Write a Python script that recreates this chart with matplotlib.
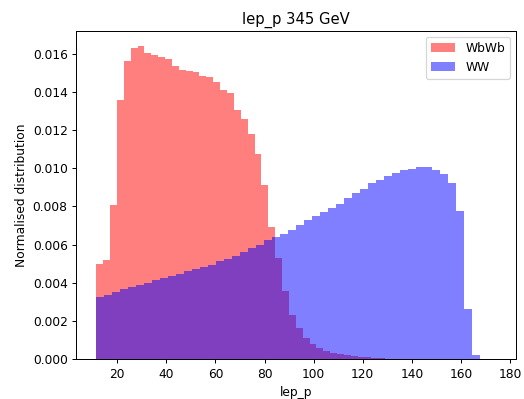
import numpy as np
import matplotlib
matplotlib.use('Agg')
import matplotlib.pyplot as plt

# bin ranges (50 bins each)
wbwb_range = (11.44, 151.6)
ww_range = (11.44, 174.3)

# normalised bin heights
wbwb = [0.00498, 0.00522, 0.00806, 0.01358, 0.01559, 0.01632, 0.01638, 0.01601, 0.01594, 0.01584,
        0.01572, 0.01537, 0.01514, 0.01511, 0.01502, 0.01485, 0.01476, 0.01450, 0.01410, 0.01394,
        0.01307, 0.01258, 0.01180, 0.01076, 0.00910, 0.00692, 0.00529, 0.00355, 0.00233, 0.00162,
        0.00110, 0.00082, 0.00059, 0.00045, 0.00035, 0.00028, 0.00022, 0.00017, 0.00013, 0.00010,
        0.00008, 0.00006, 0.00004, 0.00003, 0.00002, 0.00002, 0.00001, 0.00001, 0.00000, 0.00001]

ww = [0.00327, 0.00339, 0.00353, 0.00367, 0.00377, 0.00388, 0.00400, 0.00414, 0.00426, 0.00437,
      0.00449, 0.00462, 0.00472, 0.00482, 0.00494, 0.00513, 0.00527, 0.00540, 0.00562, 0.00580,
      0.00600, 0.00623, 0.00640, 0.00658, 0.00679, 0.00705, 0.00727, 0.00748, 0.00771, 0.00792,
      0.00815, 0.00846, 0.00870, 0.00893, 0.00922, 0.00936, 0.00957, 0.00976, 0.00989, 0.00997,
      0.01009, 0.01009, 0.00992, 0.00971, 0.00922, 0.00776, 0.00261, 0.00022, 0.00000, 0.00000]

edges_wbwb = np.linspace(*wbwb_range, len(wbwb) + 1)
edges_ww = np.linspace(*ww_range, len(ww) + 1)

# the reference looks like a default figure shown at ~0.887 scale
dpi = 88.7
fig, ax = plt.subplots(figsize=(524 / dpi, 399 / dpi), dpi=dpi)
fig.subplots_adjust(left=0.1456, right=0.9847, bottom=0.0995, top=0.923)

ax.hist(0.5 * (edges_wbwb[:-1] + edges_wbwb[1:]), bins=edges_wbwb, weights=wbwb,
        color='red', alpha=0.5, label='WbWb')
ax.hist(0.5 * (edges_ww[:-1] + edges_ww[1:]), bins=edges_ww, weights=ww,
        color='blue', alpha=0.5, label='WW')

ax.set_title('lep_p 345 GeV')
ax.set_xlabel('lep_p')
ax.set_ylabel('Normalised distribution')
ax.legend(loc='upper right')

fig.savefig('out.png', dpi=dpi)
